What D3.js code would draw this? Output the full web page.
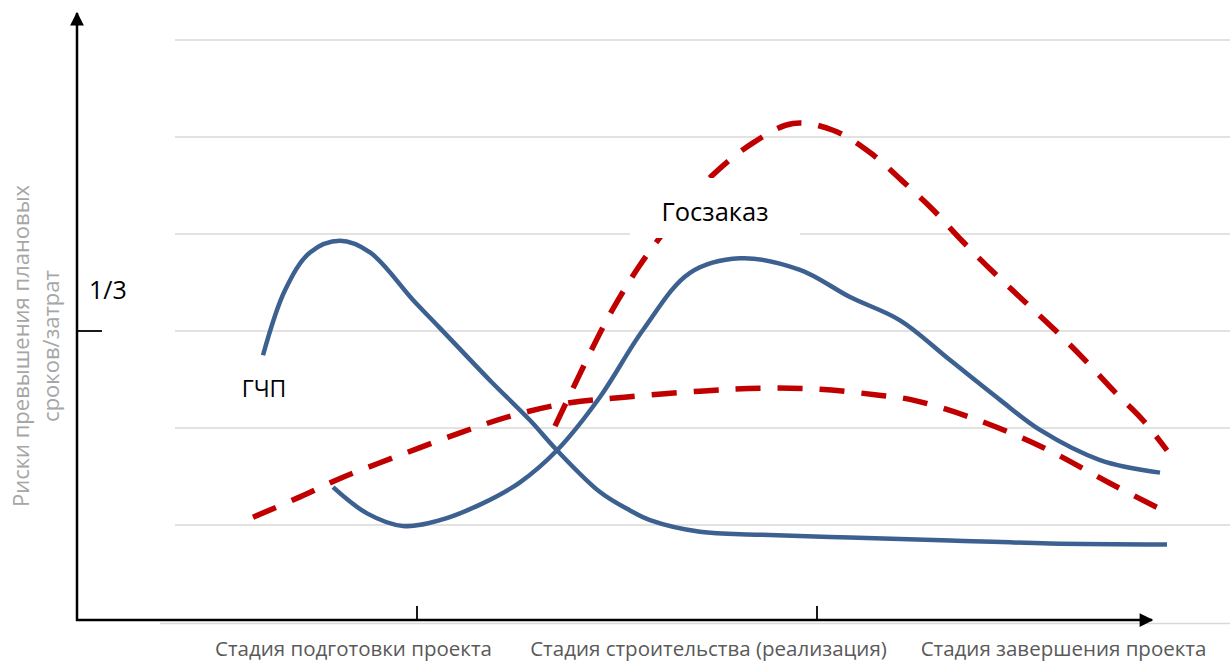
<!DOCTYPE html>
<html>
<head>
<meta charset="utf-8">
<script src="https://cdn.jsdelivr.net/npm/d3@7/dist/d3.min.js"></script>
<style>
  body { margin: 0; background: #fff; }
  svg { display: block; font-family: "Open Sans", sans-serif; }
</style>
</head>
<body>
<svg width="1230" height="663"></svg>
<script>
// stages along the x axis
const stages = ["Стадия подготовки проекта", "Стадия строительства (реализация)", "Стадия завершения проекта"];
const gridValues = [0, 1, 2, 3, 4, 5, 6];
const yTickValues = [3];
const yTickLabels = ["1/3"];
const xTickValues = [340, 740];

// curves: x = time, y = risk level
const gchpEarlyX = [186, 208, 233, 263, 293, 336, 363, 413, 453, 480, 523, 553, 573, 623, 683, 773, 873, 973, 1090];
const gchpEarlyY = [2.75, 3.42, 3.81, 3.93, 3.81, 3.32, 3.03, 2.49, 2.08, 1.77, 1.34, 1.15, 1.05, 0.93, 0.90, 0.87, 0.84, 0.81, 0.80];

const gchpLateX = [256, 290, 326, 363, 403, 443, 480, 523, 566, 613, 663, 723, 773, 823, 873, 923, 963, 1023, 1083];
const gchpLateY = [1.39, 1.12, 0.99, 1.05, 1.21, 1.44, 1.77, 2.32, 3.01, 3.60, 3.75, 3.63, 3.35, 3.11, 2.70, 2.29, 1.98, 1.67, 1.54];

const gzFlatX = [176, 223, 263, 323, 383, 436, 493, 550, 623, 683, 743, 800, 835, 896, 966, 1033, 1088];
const gzFlatY = [1.08, 1.29, 1.48, 1.72, 1.95, 2.13, 2.26, 2.32, 2.38, 2.41, 2.40, 2.34, 2.29, 2.10, 1.80, 1.43, 1.14];

const gzPeakX = [478, 523, 540, 563, 603, 636, 676, 716, 756, 793, 826, 856, 886, 916, 948, 978, 1008, 1038, 1066, 1090];
const gzPeakY = [2.02, 2.98, 3.30, 3.68, 4.23, 4.61, 4.94, 5.14, 5.07, 4.84, 4.54, 4.25, 3.92, 3.61, 3.30, 3.01, 2.70, 2.37, 2.08, 1.77];

const zip = (xs, ys) => xs.map((x, i) => ({x: x, y: ys[i]}));

const svg = d3.select("svg");

const x = d3.scaleLinear().domain([0, 1100]).range([77, 1177]);
const y = d3.scaleLinear().domain([0, 6]).range([622, 40]);
const xStage = d3.scaleBand().domain(stages).range([176, 1241]);

// gridlines
svg.append("g")
  .selectAll("line").data(gridValues).enter().append("line")
  .attr("x1", d => d === 0 ? 160 : 175)
  .attr("x2", 1230)
  .attr("y1", d => y(d) + (d === 0 ? 1.5 : 0))
  .attr("y2", d => y(d) + (d === 0 ? 1.5 : 0))
  .attr("stroke", "#d9d9d9")
  .attr("stroke-width", 1.5);

// arrow heads
const defs = svg.append("defs");
defs.append("marker")
  .attr("id", "arrow")
  .attr("viewBox", "0 0 10 10")
  .attr("refX", 9).attr("refY", 5)
  .attr("markerWidth", 6).attr("markerHeight", 5.5)
  .attr("orient", "auto")
  .append("path")
  .attr("d", "M0,0L10,5L0,10Z")
  .attr("fill", "#000");

// axes
svg.append("line")
  .attr("x1", x(0)).attr("y1", y(0) - 1)
  .attr("x2", x(0)).attr("y2", 13)
  .attr("stroke", "#000").attr("stroke-width", 2.5)
  .attr("marker-end", "url(#arrow)");

svg.append("line")
  .attr("x1", x(0) - 1).attr("y1", y(0) - 2)
  .attr("x2", 1152).attr("y2", y(0) - 2)
  .attr("stroke", "#000").attr("stroke-width", 2.5)
  .attr("marker-end", "url(#arrow)");

// x ticks
svg.append("g")
  .selectAll("line").data(xTickValues).enter().append("line")
  .attr("x1", d => x(d)).attr("x2", d => x(d))
  .attr("y1", y(0) - 16).attr("y2", y(0) - 2)
  .attr("stroke", "#000").attr("stroke-width", 1.8);

// y tick 1/3
const yt = svg.append("g");
yt.selectAll("line").data(yTickValues).enter().append("line")
  .attr("x1", x(0)).attr("x2", x(0) + 25)
  .attr("y1", d => y(d)).attr("y2", d => y(d))
  .attr("stroke", "#000").attr("stroke-width", 1.8);
yt.selectAll("text").data(yTickValues).enter().append("text")
  .attr("x", 89)
  .attr("y", d => y(d) - 32)
  .attr("font-size", "25px")
  .attr("fill", "#000")
  .text((d, i) => yTickLabels[i]);

// stage labels
svg.append("g")
  .selectAll("text").data(stages).enter().append("text")
  .attr("x", d => xStage(d) + xStage.bandwidth() / 2)
  .attr("y", 656)
  .attr("text-anchor", "middle")
  .attr("font-size", "20.5px")
  .attr("fill", "#595959")
  .text(d => d);

// y title
const yTitle = svg.append("text")
  .attr("transform", "translate(0, 346) rotate(-90)")
  .attr("text-anchor", "middle")
  .attr("font-size", "22px")
  .attr("fill", "#a6a6a6");
yTitle.append("tspan").attr("x", 0).attr("y", 29).text("Риски превышения плановых");
yTitle.append("tspan").attr("x", 0).attr("y", 59).text("сроков/затрат");

// curves
const line = d3.line()
  .x(d => x(d.x))
  .y(d => y(d.y))
  .curve(d3.curveCatmullRom.alpha(0.5));

const series = [
  {data: zip(gzFlatX, gzFlatY), color: "#c00000", dash: "25,17", w: 5.5},
  {data: zip(gzPeakX, gzPeakY), color: "#c00000", dash: "25,17", w: 5.5},
  {data: zip(gchpEarlyX, gchpEarlyY), color: "#3c6190", dash: null, w: 4.5},
  {data: zip(gchpLateX, gchpLateY), color: "#3c6190", dash: null, w: 4.5}
];

svg.append("g")
  .selectAll("path").data(series).enter().append("path")
  .attr("d", d => line(d.data))
  .attr("fill", "none")
  .attr("stroke", d => d.color)
  .attr("stroke-width", d => d.w)
  .attr("stroke-dasharray", d => d.dash);

// labels
svg.append("rect")
  .attr("x", 630).attr("y", 178)
  .attr("width", 170).attr("height", 60)
  .attr("fill", "#fff");

svg.append("text")
  .attr("x", 715).attr("y", 221)
  .attr("text-anchor", "middle")
  .attr("font-size", "25.5px")
  .attr("fill", "#000")
  .text("Госзаказ");

svg.append("text")
  .attr("x", 264).attr("y", 397)
  .attr("text-anchor", "middle")
  .attr("font-size", "23px")
  .attr("fill", "#000")
  .text("ГЧП");
</script>
</body>
</html>
